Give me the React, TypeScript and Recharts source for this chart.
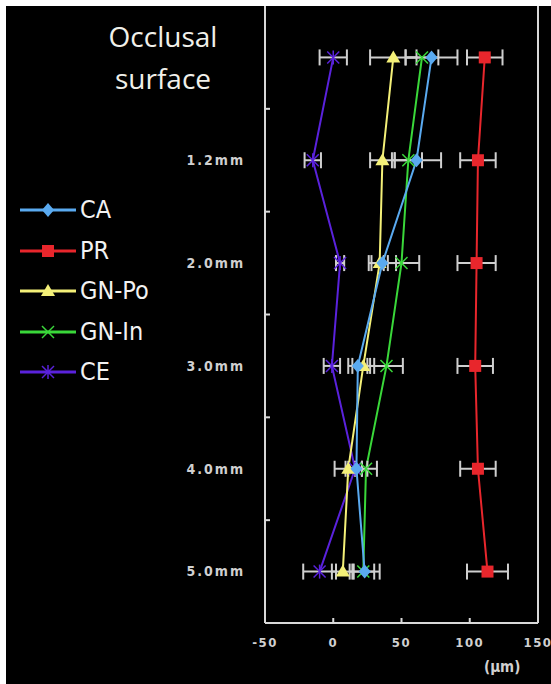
import {
  ComposedChart,
  Line,
  XAxis,
  YAxis,
  ErrorBar,
  ReferenceLine,
  Legend,
} from "recharts";

// depth from the occlusal surface (first row has no label)
const depths = ["", "1.2mm", "2.0mm", "3.0mm", "4.0mm", "5.0mm"];

// values in µm
const caValues = [72, 61, 36, 18, 17, 23];
const caErr = [19, 18, 10, 7, 8, 11];
const prValues = [111, 106, 105, 104, 106, 113];
const prErr = [13, 13, 14, 13, 13, 15];
const gnPoValues = [44, 36, 34, 22, 11, 7];
const gnPoErr = [17, 9, 6, 8, 10, 8];
const gnInValues = [65, 55, 50, 39, 24, 22];
const gnInErr = [12, 10, 13, 12, 8, 8];
const ceValues = [0, -15, 5, -1, 16, -10];
const ceErr = [10, 6, 3, 6, 5, 12];

const xTicks = [-50, 0, 50, 100, 150];

const data = depths.map((depth, i) => ({
  depth,
  CA: caValues[i],
  caErr: caErr[i],
  PR: prValues[i],
  prErr: prErr[i],
  "GN-Po": gnPoValues[i],
  gnPoErr: gnPoErr[i],
  "GN-In": gnInValues[i],
  gnInErr: gnInErr[i],
  CE: ceValues[i],
  ceErr: ceErr[i],
}));

const NARROW =
  "'Liberation Sans Narrow', 'DejaVu Sans Condensed', 'DejaVu Sans', sans-serif";
const AXIS = "#d9d9d9";
const ERR = "#cfcfcf";
const Y_MARGIN = 20;
const X_MARGIN = 15;

type Shape = "diamond" | "square" | "triangle" | "cross" | "star";

const series: { key: string; err: string; color: string; shape: Shape }[] = [
  { key: "CA", err: "caErr", color: "#5aaaf0", shape: "diamond" },
  { key: "PR", err: "prErr", color: "#e8262c", shape: "square" },
  { key: "GN-Po", err: "gnPoErr", color: "#f4f078", shape: "triangle" },
  { key: "GN-In", err: "gnInErr", color: "#3ad83a", shape: "cross" },
  { key: "CE", err: "ceErr", color: "#5a22dc", shape: "star" },
];

function Marker({ cx, cy, color, shape }: { cx: number; cy: number; color: string; shape: Shape }) {
  if (cx == null || cy == null) return null;
  switch (shape) {
    case "diamond":
      return (
        <polygon
          points={`${cx},${cy - 7} ${cx + 6},${cy} ${cx},${cy + 7} ${cx - 6},${cy}`}
          fill={color}
        />
      );
    case "square":
      return <rect x={cx - 6} y={cy - 6} width={12} height={12} fill={color} />;
    case "triangle":
      return (
        <polygon
          points={`${cx},${cy - 7} ${cx + 7},${cy + 5} ${cx - 7},${cy + 5}`}
          fill={color}
        />
      );
    case "cross":
      return (
        <g stroke={color} strokeWidth={1.5}>
          <line x1={cx - 6} y1={cy - 6} x2={cx + 6} y2={cy + 6} />
          <line x1={cx - 6} y1={cy + 6} x2={cx + 6} y2={cy - 6} />
        </g>
      );
    default:
      return (
        <g stroke={color} strokeWidth={1.5}>
          <line x1={cx - 6} y1={cy - 6} x2={cx + 6} y2={cy + 6} />
          <line x1={cx - 6} y1={cy + 6} x2={cx + 6} y2={cy - 6} />
          <line x1={cx} y1={cy - 7} x2={cx} y2={cy + 7} />
        </g>
      );
  }
}

// depth label plus a small inward tick on the boundary above each band
function DepthTick(props: any) {
  const { x, y, payload, index } = props;
  const axisX = x + Y_MARGIN;
  const edge = payload.coordinate - (payload.offset ?? 0);
  return (
    <g>
      {index > 0 && (
        <line x1={axisX} y1={edge} x2={axisX + 5} y2={edge} stroke={AXIS} strokeWidth={2} />
      )}
      <text
        x={x}
        y={y}
        dy="0.35em"
        textAnchor="end"
        fill="#d0d0d0"
        fontSize={14}
        fontFamily={NARROW}
        fontWeight={700}
        letterSpacing={2}
        style={{ fontStretch: "condensed" }}
      >
        {payload.value}
      </text>
    </g>
  );
}

// µm label with a short tick pointing up into the plot
function ValueTick(props: any) {
  const { x, y, payload } = props;
  const axisY = y - X_MARGIN;
  return (
    <g>
      <line x1={x} y1={axisY} x2={x} y2={axisY - 5} stroke={AXIS} strokeWidth={2} />
      <text
        x={x}
        y={y}
        dy="0.71em"
        textAnchor="middle"
        fill="#d0d0d0"
        fontSize={13}
        fontFamily={NARROW}
        fontWeight={700}
        letterSpacing={1.5}
        style={{ fontStretch: "condensed" }}
      >
        {payload.value}
      </text>
    </g>
  );
}

function LegendBox() {
  return (
    <div style={{ display: "flex", flexDirection: "column" }}>
      {series.map((s) => (
        <div key={s.key} style={{ display: "flex", alignItems: "center", height: 40.5 }}>
          <svg width={58} height={20} style={{ display: "block" }}>
            <line x1={0} y1={10} x2={56} y2={10} stroke={s.color} strokeWidth={3} />
            <Marker cx={28} cy={10} color={s.color} shape={s.shape} />
          </svg>
          <span
            style={{
              color: "#f2f2f2",
              fontFamily: NARROW,
              fontStretch: "condensed",
              fontSize: 25,
              marginLeft: 2,
              lineHeight: "20px",
            }}
          >
            {s.key}
          </span>
        </div>
      ))}
    </div>
  );
}

export default function App() {
  return (
    <div
      style={{
        position: "fixed",
        left: 0,
        top: 0,
        width: 551,
        height: 684,
        background: "#ffffff",
      }}
    >
      <div
        style={{
          position: "absolute",
          left: 6,
          top: 6,
          width: 545,
          height: 678,
          background: "#000000",
        }}
      >
        <ComposedChart
          layout="vertical"
          width={545}
          height={678}
          data={data}
          margin={{ top: 0, right: 13, bottom: 31, left: 179 }}
        >
          <XAxis
            type="number"
            domain={[-50, 150]}
            ticks={xTicks}
            axisLine={{ stroke: AXIS, strokeWidth: 2 }}
            tickLine={false}
            tickSize={0}
            tickMargin={X_MARGIN}
            height={30}
            tick={<ValueTick />}
          />
          <YAxis
            type="category"
            dataKey="depth"
            scale="band"
            width={80}
            axisLine={{ stroke: AXIS, strokeWidth: 2 }}
            tickLine={false}
            tickSize={0}
            tickMargin={Y_MARGIN}
            tick={<DepthTick />}
          />
          <ReferenceLine x={150} stroke={AXIS} strokeWidth={2} />
          <Legend
            layout="vertical"
            align="center"
            verticalAlign="middle"
            wrapperStyle={{ left: 14, top: 184, width: 180 }}
            content={() => <LegendBox />}
          />
          {[...series].reverse().map((s) => (
            <Line
              key={s.key}
              dataKey={s.key}
              stroke={s.color}
              strokeWidth={2}
              isAnimationActive={false}
              dot={(p: any) => (
                <Marker
                  key={`${s.key}-${p.index}`}
                  cx={p.cx}
                  cy={p.cy}
                  color={s.color}
                  shape={s.shape}
                />
              )}
              activeDot={false}
            >
              <ErrorBar
                dataKey={s.err}
                direction="x"
                width={8}
                stroke={ERR}
                strokeWidth={2}
                isAnimationActive={false}
              />
            </Line>
          ))}
        </ComposedChart>
        <div
          style={{
            position: "absolute",
            left: 60,
            top: 9,
            width: 194,
            textAlign: "center",
            color: "#f0f0ea",
            fontFamily: "'Open Sans', sans-serif",
            fontSize: 28,
            lineHeight: "42px",
          }}
        >
          Occlusal
          <br />
          surface
        </div>
        <div
          style={{
            position: "absolute",
            left: 478,
            top: 652,
            color: "#d0d0d0",
            fontFamily: NARROW,
            fontSize: 15,
            fontWeight: 700,
          }}
        >
          (µm)
        </div>
      </div>
    </div>
  );
}
